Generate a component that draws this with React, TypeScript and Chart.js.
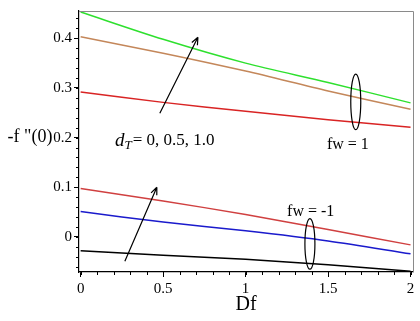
import React, { useEffect, useRef } from "react";
import { Chart, registerables } from "chart.js";

Chart.register(...registerables);

const dfValues = [0, 0.5, 1, 1.5, 2];
const fw1_dT0 = [0.292, 0.271, 0.253, 0.236, 0.221];
const fw1_dT05 = [0.403, 0.37, 0.334, 0.294, 0.257];
const fw1_dT10 = [0.453, 0.398, 0.35, 0.311, 0.27];
const fwm1_dT0 = [-0.028, -0.037, -0.045, -0.056, -0.069];
const fwm1_dT05 = [0.051, 0.03, 0.0124, -0.008, -0.034];
const fwm1_dT10 = [0.0975, 0.0725, 0.045, 0.015, -0.016];
const xTicks = [0, 0.5, 1, 1.5, 2];
const yTicks = [0, 0.1, 0.2, 0.3, 0.4];

const FONT = "Liberation Serif";

const toPts = (ys: number[]) => dfValues.map((x, i) => ({ x, y: ys[i] }));

const annotationPlugin = {
  id: "annots",
  afterDraw(chart: any) {
    const { ctx, chartArea, scales } = chart;
    const xs = scales.x;
    const ys = scales.y;
    const px = (v: number) => xs.getPixelForValue(v);
    const py = (v: number) => ys.getPixelForValue(v);
    ctx.save();
    // top/right frame
    ctx.strokeStyle = "#8a8a8a";
    ctx.lineWidth = 1;
    ctx.beginPath();
    ctx.moveTo(chartArea.left, chartArea.top + 0.5);
    ctx.lineTo(chartArea.right + 0.5, chartArea.top + 0.5);
    ctx.lineTo(chartArea.right + 0.5, chartArea.bottom);
    ctx.stroke();

    // minor ticks
    ctx.strokeStyle = "#000";
    ctx.beginPath();
    for (let v = 0; v <= 2.0001; v += 0.1) {
      const x = Math.round(px(v)) + 0.5;
      ctx.moveTo(x, chartArea.bottom);
      ctx.lineTo(x, chartArea.bottom + 3);
    }
    for (let v = -0.06; v <= 0.45; v += 0.02) {
      const y = Math.round(py(v)) + 0.5;
      ctx.moveTo(chartArea.left, y);
      ctx.lineTo(chartArea.left - 3, y);
    }
    ctx.stroke();

    // arrows
    const arrow = (x1: number, y1: number, x2: number, y2: number) => {
      const a = px(x1), b = py(y1), c = px(x2), d = py(y2);
      ctx.strokeStyle = "#000";
      ctx.lineWidth = 1.2;
      ctx.beginPath();
      ctx.moveTo(a, b);
      ctx.lineTo(c, d);
      const ang = Math.atan2(d - b, c - a);
      const h = 8;
      ctx.moveTo(c, d);
      ctx.lineTo(c - h * Math.cos(ang - 0.4), d - h * Math.sin(ang - 0.4));
      ctx.moveTo(c, d);
      ctx.lineTo(c - h * Math.cos(ang + 0.4), d - h * Math.sin(ang + 0.4));
      ctx.stroke();
    };
    arrow(0.48, 0.249, 0.711, 0.402);
    arrow(0.268, -0.049, 0.462, 0.1);

    // ellipses
    const ell = (cx: number, cy: number, ryv: number) => {
      const cxp = px(cx), cyp = py(cy);
      const ryp = Math.abs(py(cy + ryv) - cyp);
      ctx.beginPath();
      ctx.ellipse(cxp, cyp, 5, ryp, 0, 0, Math.PI * 2);
      ctx.lineWidth = 1.2;
      ctx.stroke();
    };
    ell(1.668, 0.272, 0.056);
    ell(1.39, -0.014, 0.051);

    // texts
    ctx.fillStyle = "#000";
    ctx.textBaseline = "middle";
    ctx.textAlign = "center";
    ctx.font = `16px ${FONT}`;
    ctx.fillText("fw = 1", px(1.62), py(0.186));
    ctx.fillText("fw = -1", px(1.395), py(0.051));

    // d_T label
    ctx.textAlign = "left";
    let x0 = px(0.208);
    const y0 = py(0.194);
    ctx.font = `italic 19px ${FONT}`;
    ctx.fillText("d", x0, y0);
    x0 += ctx.measureText("d").width;
    ctx.font = `italic 13px ${FONT}`;
    ctx.fillText("T", x0, y0 + 5);
    x0 += ctx.measureText("T").width + 1;
    ctx.font = `17px ${FONT}`;
    ctx.fillText("= 0, 0.5, 1.0", x0, y0);

    // axis titles
    ctx.textAlign = "center";
    ctx.font = `18px ${FONT}`;
    ctx.fillText('-f "(0)', 30, py(0.2));
    ctx.font = `20px ${FONT}`;
    ctx.fillText("Df", (chartArea.left + chartArea.right) / 2, 305);
    ctx.restore();
  },
};

export default function App() {
  const ref = useRef<HTMLCanvasElement | null>(null);
  useEffect(() => {
    document.body.style.margin = "0";
    Chart.defaults.font.family = FONT;
    const mk = (label: string, ys: number[], color: string) => ({
      label,
      data: toPts(ys),
      borderColor: color,
      backgroundColor: color,
      borderWidth: 1.5,
      pointRadius: 0,
      tension: 0.3,
      fill: false,
    });
    const chart = new Chart(ref.current as HTMLCanvasElement, {
      type: "line",
      data: {
        datasets: [
          mk("fw=1, dT=0", fw1_dT0, "#d92424"),
          mk("fw=1, dT=0.5", fw1_dT05, "#c4875a"),
          mk("fw=1, dT=1.0", fw1_dT10, "#2ee02e"),
          mk("fw=-1, dT=0", fwm1_dT0, "#000000"),
          mk("fw=-1, dT=0.5", fwm1_dT05, "#1a1acc"),
          mk("fw=-1, dT=1.0", fwm1_dT10, "#d04040"),
        ],
      },
      options: {
        animation: false,
        responsive: false,
        maintainAspectRatio: false,
        layout: { padding: { top: 5, right: 7, left: 0, bottom: 0 } },
        plugins: { legend: { display: false }, tooltip: { enabled: false } },
        scales: {
          x: {
            type: "linear",
            min: -0.01,
            max: 2.015,
            afterBuildTicks: (s: any) => {
              s.ticks = xTicks.map((v) => ({ value: v }));
            },
            afterFit: (s: any) => {
              s.height = 49;
            },
            border: { color: "#000", width: 1.2 },
            grid: { drawOnChartArea: false, tickLength: 5, color: "#000" },
            ticks: {
              color: "#000",
              font: { family: FONT, size: 15 },
              padding: 3,
              maxRotation: 0,
              callback: (v: any) => String(v),
            },
          },
          y: {
            type: "linear",
            min: -0.0706,
            max: 0.455,
            afterBuildTicks: (s: any) => {
              s.ticks = yTicks.map((v) => ({ value: v }));
            },
            afterFit: (s: any) => {
              s.width = 79;
            },
            border: { color: "#000", width: 1.2 },
            grid: { drawOnChartArea: false, tickLength: 5, color: "#000" },
            ticks: {
              color: "#000",
              font: { family: FONT, size: 15 },
              padding: 2,
              callback: (v: any) => String(v),
            },
          },
        },
      },
      plugins: [annotationPlugin],
    });
    return () => chart.destroy();
  }, []);
  return (
    <div style={{ position: "fixed", left: 0, top: 0, width: 420, height: 321, background: "#fff" }}>
      <canvas ref={ref} width={420} height={321} />
    </div>
  );
}
